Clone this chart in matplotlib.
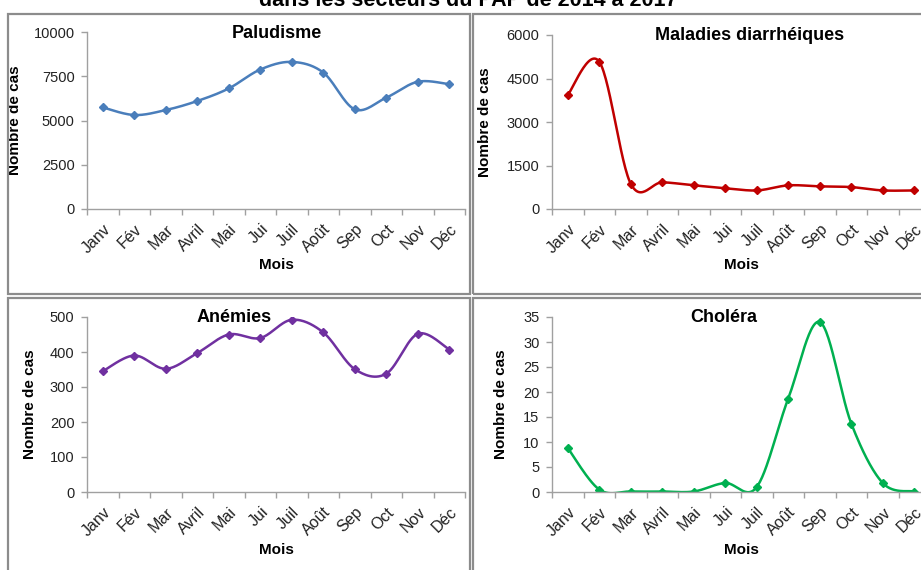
import numpy as np
import matplotlib

matplotlib.use("Agg")
import matplotlib.pyplot as plt
from matplotlib.patches import Rectangle

plt.rcParams["font.family"] = ["Liberation Sans", "DejaVu Sans"]

mois = ["Janv", "Fév", "Mar", "Avril", "Mai", "Jui", "Juil", "Août", "Sep", "Oct", "Nov", "Déc"]

paludisme = [5740, 5310, 5590, 6100, 6810, 7880, 8310, 7710, 5630, 6290, 7190, 7050]
diarrhee = [3935, 5080, 870, 920, 815, 720, 640, 815, 780, 755, 640, 640]
anemies = [345, 390, 352, 397, 450, 440, 492, 456, 351, 338, 452, 407]
cholera = [8.8, 0.5, 0.1, 0.1, 0.1, 1.8, 1.0, 18.7, 34.0, 13.7, 1.8, 0.1]

W, H = 921, 570


def smooth(y, n=30):
    # Excel-style smoothed line (Catmull-Rom through the points)
    y = np.asarray(y, dtype=float)
    x = np.arange(len(y), dtype=float)
    px = np.concatenate([[x[0]], x, [x[-1]]])
    py = np.concatenate([[y[0]], y, [y[-1]]])
    xs, ys = [], []
    t = np.linspace(0, 1, n)
    for i in range(1, len(px) - 2):
        for arr, out in ((px, xs), (py, ys)):
            p0, p1, p2, p3 = arr[i - 1], arr[i], arr[i + 1], arr[i + 2]
            c1 = p1 + (p2 - p0) / 6
            c2 = p2 - (p3 - p1) / 6
            out.append((1 - t) ** 3 * p1 + 3 * (1 - t) ** 2 * t * c1
                       + 3 * (1 - t) * t ** 2 * c2 + t ** 3 * p2)
    return np.concatenate(xs), np.concatenate(ys)


def px_axes(left, top, right, bottom):
    return [left / W, 1 - bottom / H, (right - left) / W, (bottom - top) / H]


fig = plt.figure(figsize=(W / 100, H / 100), dpi=100)

# panel frames
for (x0, y0, x1, y1) in [(8, 14, 470, 294), (473, 14, 930, 294),
                         (8, 298, 470, 580), (473, 298, 930, 580)]:
    fig.patches.append(Rectangle((x0 / W, 1 - y1 / H), (x1 - x0) / W, (y1 - y0) / H,
                                 transform=fig.transFigure, fill=False,
                                 edgecolor="#8c8c8c", linewidth=1.6))

# the figure caption is cut by the top edge in the source image
fig.text(468 / W, 1 - 6.5 / H, "dans les secteurs du PAP de 2014 à 2017",
         ha="center", va="baseline", fontsize=15.5, fontweight="bold")

panels = [
    ("Paludisme", paludisme, "#4a7ebb", (87, 32, 465, 209), np.arange(0, 10001, 2500), 277, -0.172, 56),
    ("Maladies diarrhéiques", diarrhee, "#c00000", (552, 35, 930, 209), np.arange(0, 6001, 1500), 750, -0.159, 56),
    ("Anémies", anemies, "#7030a0", (87, 317, 465, 492), np.arange(0, 501, 100), 234, -0.132, 58),
    ("Choléra", cholera, "#00b050", (552, 317, 930, 492), np.arange(0, 36, 5), 724, -0.116, 58),
]

for title, vals, color, box, yticks, title_x, ylab_x, mois_off in panels:
    ax = fig.add_axes(px_axes(*box))
    x = np.arange(len(mois))
    sx, sy = smooth(vals)
    ax.plot(sx, sy, color=color, linewidth=1.8, solid_capstyle="round")
    ax.plot(x, vals, linestyle="none", marker="D", markersize=4.5, color=color)
    ax.set_xlim(-0.5, len(mois) - 0.5)
    ax.set_ylim(yticks[0], yticks[-1])
    ax.set_yticks(yticks)
    ax.set_yticklabels([str(v) for v in yticks], fontsize=10.5, color="#222222")
    ax.set_xticks(x)
    ax.set_xticklabels(mois, rotation=45, ha="right", rotation_mode="anchor",
                       fontsize=11.5, color="#222222")
    ax.set_xticks(np.arange(-0.5, len(mois), 1), minor=True)
    ax.tick_params(axis="x", which="major", length=0, pad=9)
    ax.tick_params(axis="x", which="minor", length=4, color="#a0a0a0", width=1)
    ax.tick_params(axis="y", length=4, color="#a0a0a0", width=1, pad=5)
    for side in ("top", "right"):
        ax.spines[side].set_visible(False)
    for side in ("left", "bottom"):
        ax.spines[side].set_color("#a0a0a0")
        ax.spines[side].set_linewidth(1)
    ax.set_ylabel("Nombre de cas", fontsize=11, fontweight="bold")
    ax.yaxis.set_label_coords(ylab_x, 0.5)
    ax.set_xlabel("Mois", fontsize=11, fontweight="bold")
    ax.xaxis.set_label_coords(0.5, -mois_off / (box[3] - box[1]))
    ax.xaxis.label.set_va("center")
    ax.patch.set_alpha(0)
    top = box[1]
    fig.text(title_x / W, 1 - (top + 1) / H, title, ha="center", va="center",
             fontsize=13, fontweight="bold")

fig.savefig("out.png", dpi=100)
